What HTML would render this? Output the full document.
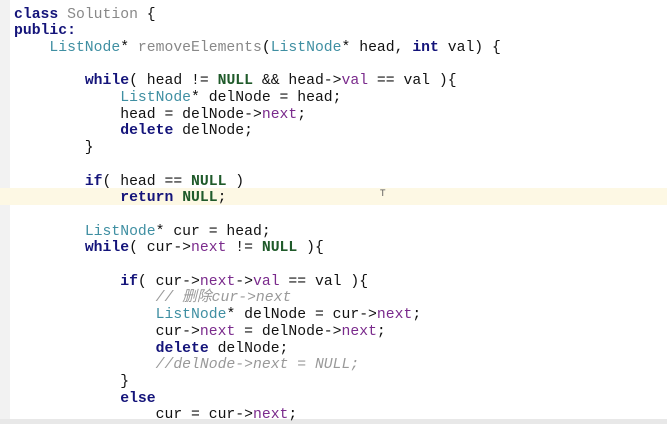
<!DOCTYPE html>
<html><head><meta charset="utf-8"><style>
body{margin:0;width:667px;height:424px;overflow:hidden;background:#fff;position:relative}
.g{position:absolute;left:0;top:0;width:10px;height:424px;background:#f2f2f2}
.hl{position:absolute;left:0;top:188px;width:667px;height:17px;background:#fdf8e4}
.bt{position:absolute;left:0;top:419px;width:667px;height:5px;background:#e8e8e8}
pre{position:absolute;left:14px;top:6.5px;margin:0;font-family:"Liberation Mono","Noto Sans CJK SC",monospace;font-size:14.75px;line-height:16.7px;color:#111}
.k{color:#14147a;font-weight:bold}
.n{color:#1f5a2a;font-weight:bold}
.t{color:#3f8fa2}
.f{color:#888}
.p{color:#7a2a8c}
.c{color:#999;font-style:italic}
.cur{position:absolute;left:380px;top:188px;font:9px "Liberation Sans",sans-serif;color:#555}
</style></head><body>
<div class="g"></div><div class="hl"></div><div class="bt"></div><div class="cur">T</div>
<pre><span class="k">class</span> <span class="f">Solution</span> {
<span class="k">public:</span>
    <span class="t">ListNode</span>* <span class="f">removeElements</span>(<span class="t">ListNode</span>* head, <span class="k">int</span> val) {

        <span class="k">while</span>( head != <span class="n">NULL</span> &amp;&amp; head-&gt;<span class="p">val</span> == val ){
            <span class="t">ListNode</span>* delNode = head;
            head = delNode-&gt;<span class="p">next</span>;
            <span class="k">delete</span> delNode;
        }

        <span class="k">if</span>( head == <span class="n">NULL</span> )
            <span class="k">return</span> <span class="n">NULL</span>;

        <span class="t">ListNode</span>* cur = head;
        <span class="k">while</span>( cur-&gt;<span class="p">next</span> != <span class="n">NULL</span> ){

            <span class="k">if</span>( cur-&gt;<span class="p">next</span>-&gt;<span class="p">val</span> == val ){
                <span class="c">// 删除cur-&gt;next</span>
                <span class="t">ListNode</span>* delNode = cur-&gt;<span class="p">next</span>;
                cur-&gt;<span class="p">next</span> = delNode-&gt;<span class="p">next</span>;
                <span class="k">delete</span> delNode;
                <span class="c">//delNode-&gt;next = NULL;</span>
            }
            <span class="k">else</span>
                cur = cur-&gt;<span class="p">next</span>;</pre>
</body></html>
